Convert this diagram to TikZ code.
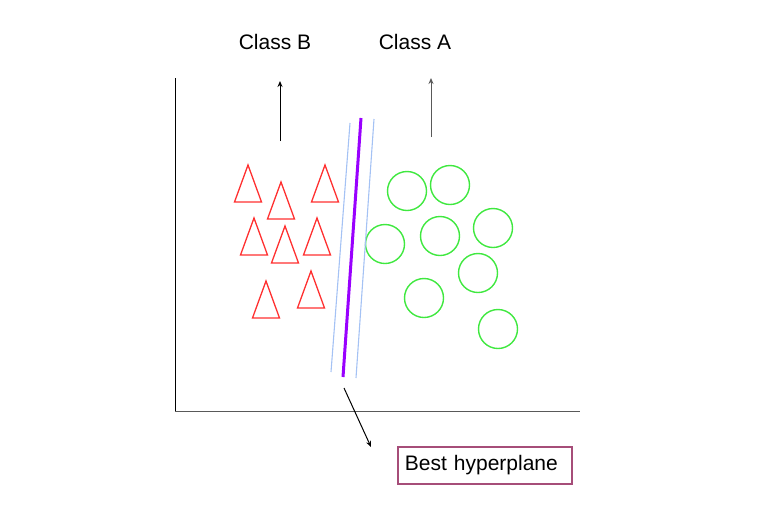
\documentclass[tikz,border=0pt]{standalone}
\usepackage{fontspec}
\setmainfont{Liberation Sans}
\usepackage{tikz}
\usetikzlibrary{arrows.meta, positioning}
\definecolor{color_text}{HTML}{000000}
\definecolor{color_axis}{HTML}{595959}
\definecolor{color_class_b}{HTML}{FF3030}
\definecolor{color_class_a}{HTML}{3FE83F}
\definecolor{color_plane}{HTML}{9900FF}
\definecolor{color_margin}{HTML}{A4C2F4}
\definecolor{color_box}{HTML}{A64D79}
\tikzset{
  axis_line/.style={draw=color_text, line width=1pt},
  class_label/.style={font=\fontsize{21}{25}\selectfont, text=color_text, inner sep=0pt},
  class_arrow/.style={-{Stealth[length=6pt, width=5pt]}, draw=color_text, line width=1pt},
  b_mark/.style={draw=color_class_b, line width=1.3pt, line join=miter},
  a_mark/.style={circle, draw=color_class_a, line width=1.4pt, inner sep=0pt, minimum size=39pt},
  plane_line/.style={draw=color_plane, line width=3pt},
  margin_line/.style={draw=color_margin, line width=1.1pt},
  note_box/.style={draw=color_box, line width=1.8pt, font=\fontsize{21}{25}\selectfont,
    text=color_text, inner xsep=7pt, inner ysep=0pt, text width=160pt, minimum height=37pt, align=left},
}
\newcommand{\bmark}[2]{\draw[b_mark] (#1-13.5,#2) -- (#1,#2-37) -- (#1+13.5,#2) -- cycle;}

\begin{document}
\begin{tikzpicture}[x=1pt, y=-1pt]
    \useasboundingbox (0,0) rectangle (760,520);
    % axes
    \coordinate (origin) at (175,411);
    \coordinate (y_end) at (175,78);
    \coordinate (x_end) at (580,411);
    \draw[axis_line] (y_end) -- (origin);
    \draw[axis_line, draw=color_axis] (origin) -- (x_end);
    % class labels and arrows
    \node[class_label] (lbl_b) at (275,42) {Class B};
    \node[class_label] (lbl_a) at (415,42) {Class A};
    \coordinate (b_tail) at (280,141);
    \coordinate (b_head) at (280,81);
    \coordinate (a_tail) at (431,137);
    \coordinate (a_head) at (431,78);
    \draw[class_arrow] (b_tail) -- (b_head);
    \draw[class_arrow, draw=color_axis] (a_tail) -- (a_head);
    % class B triangles (base midpoints)
    \bmark{248}{202}
    \bmark{281}{219}
    \bmark{325}{202}
    \bmark{254}{255}
    \bmark{285}{263}
    \bmark{317}{255}
    \bmark{266}{318}
    \bmark{311}{308}
    % class A circles
    \node[a_mark] (c1) at (407,191) {};
    \node[a_mark] (c2) at (450,185) {};
    \node[a_mark] (c3) at (385,244) {};
    \node[a_mark] (c4) at (440,236) {};
    \node[a_mark] (c5) at (493,228) {};
    \node[a_mark] (c6) at (478,273) {};
    \node[a_mark] (c7) at (424,298) {};
    \node[a_mark] (c8) at (498,329) {};
    % hyperplane and margins
    \coordinate (hp_top) at (361,118);
    \coordinate (hp_bot) at (343,377);
    \coordinate (ml_top) at (350,123);
    \coordinate (ml_bot) at (331,372);
    \coordinate (mr_top) at (374,119);
    \coordinate (mr_bot) at (356,378);
    \draw[margin_line] (ml_top) -- (ml_bot);
    \draw[margin_line] (mr_top) -- (mr_bot);
    \draw[plane_line] (hp_top) -- (hp_bot);
    % note
    \node[note_box, anchor=north west] (best) at (397,446) {Best hyperplane};
    \coordinate (ptr_tail) at (344,388);
    \coordinate (ptr_head) at (371,447);
    \draw[class_arrow] (ptr_tail) -- (ptr_head);
\end{tikzpicture}
\end{document}
